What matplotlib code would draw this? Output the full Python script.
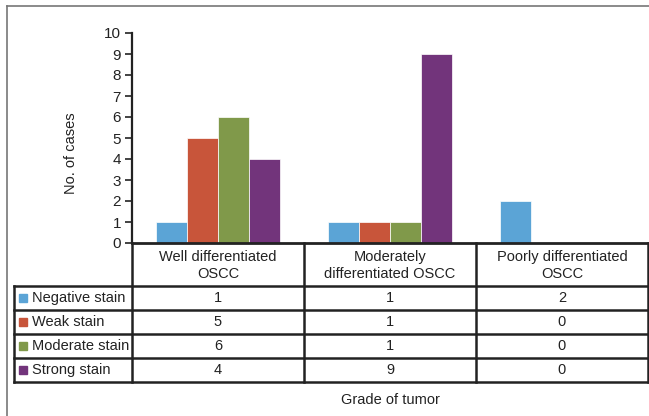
import matplotlib
matplotlib.use("Agg")
import matplotlib.pyplot as plt
import numpy as np
from matplotlib.lines import Line2D
from matplotlib.patches import Rectangle

grades = ["Well differentiated\nOSCC", "Moderately\ndifferentiated OSCC", "Poorly differentiated\nOSCC"]
stains = ["Negative stain", "Weak stain", "Moderate stain", "Strong stain"]
negative = [1, 1, 2]
weak = [5, 1, 0]
moderate = [6, 1, 0]
strong = [4, 9, 0]
colors = ["#5ba4d6", "#c8553a", "#80994a", "#72347b"]

W, H = 649, 416
INK = "#222222"
FS = 10.5

plt.rcParams.update({"font.family": ["Liberation Sans", "DejaVu Sans"], "font.size": FS})
fig = plt.figure(figsize=(W / 100, H / 100), dpi=100)


def fx(px):
    return px / W


def fy(py):
    return 1 - py / H


# plot area in pixel terms
x0, x1, ytop, ybase = 132, 648, 33, 243
ax = fig.add_axes([fx(x0), fy(ybase), fx(x1 - x0), (ybase - ytop) / H])

series = [negative, weak, moderate, strong]
x = np.arange(len(grades))
bw = 0.18
for i, (vals, c) in enumerate(zip(series, colors)):
    ax.bar(x + (i - 1.5) * bw, vals, bw, color=c, edgecolor="white", linewidth=0.5, zorder=2)

ax.set_xlim(-0.5, len(grades) - 0.5)
ax.set_ylim(0, 10)
ax.set_yticks(range(0, 11))
ax.set_xticks([])
for s in ("top", "right"):
    ax.spines[s].set_visible(False)
ax.spines["left"].set_linewidth(1.6)
ax.spines["bottom"].set_linewidth(2.0)
ax.spines["left"].set_color(INK)
ax.spines["bottom"].set_color(INK)
ax.tick_params(axis="y", direction="out", length=5, width=1.2, color=INK,
               labelcolor=INK, labelsize=11, pad=3)
ax.patch.set_alpha(0)

fig.text(fx(71), fy(153), "No. of cases", rotation=90, ha="center", va="center",
         fontsize=FS, color=INK)

# data table under the axis
col_w = (x1 - x0) / len(grades)
cols = [x0 + k * col_w for k in range(len(grades) + 1)]
lab_left = 14
head_bot = 286
row_h = 24
rows = [head_bot + k * row_h for k in range(len(stains) + 1)]
LW = 1.8


def hline(xa, xb, y):
    fig.add_artist(Line2D([fx(xa), fx(xb)], [fy(y), fy(y)], color=INK, lw=LW,
                          solid_capstyle="projecting"))


def vline(xp, ya, yb):
    fig.add_artist(Line2D([fx(xp), fx(xp)], [fy(ya), fy(yb)], color=INK, lw=LW,
                          solid_capstyle="projecting"))


for c in cols:
    vline(c, ybase, rows[-1])
vline(lab_left, rows[0], rows[-1])
for r in rows:
    hline(lab_left, x1, r)

for k, g in enumerate(grades):
    fig.text(fx(cols[k] + col_w / 2), fy((ybase + head_bot) / 2 + 1), g, ha="center",
             va="center", fontsize=FS, color=INK, linespacing=1.35)

for j, (name, vals, c) in enumerate(zip(stains, series, colors)):
    yc = (rows[j] + rows[j + 1]) / 2
    fig.add_artist(Rectangle((fx(19), fy(yc + 4)), fx(8), 8 / H, color=c))
    fig.text(fx(32), fy(yc), name, ha="left", va="center", fontsize=FS, color=INK)
    for k, v in enumerate(vals):
        fig.text(fx(cols[k] + col_w / 2), fy(yc), str(v), ha="center", va="center",
                 fontsize=FS, color=INK)

fig.text(fx((x0 + x1) / 2), fy(400), "Grade of tumor", ha="center", va="center",
         fontsize=FS, color=INK)

# chart frame
fig.add_artist(Line2D([fx(7), fx(7)], [fy(6), 0], color="#777777", lw=1.2))
fig.add_artist(Line2D([fx(7), 1], [fy(6), fy(6)], color="#777777", lw=1.2))

fig.savefig("out.png", dpi=100)
